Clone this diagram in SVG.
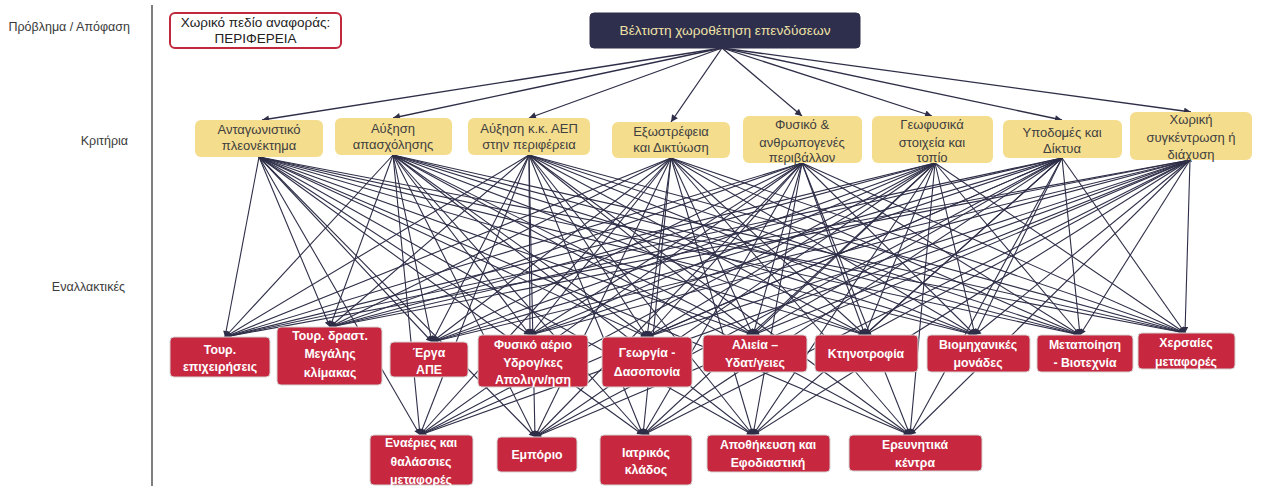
<svg xmlns="http://www.w3.org/2000/svg" width="1262" height="489" viewBox="0 0 1262 489">
<style>
.lbl{font-family:"Liberation Sans",Arial,sans-serif;font-size:12.5px;fill:#3a3a3a;text-anchor:end}
.top{fill:#2e2e4d;stroke:#2e2e4d}
.topt{font-family:"Liberation Sans",Arial,sans-serif;font-size:13.7px;fill:#efe2a6;text-anchor:middle}
.crit{fill:#f5dd8e;stroke:none}
.critt{font-family:"Liberation Sans",Arial,sans-serif;font-size:13px;fill:#404040;text-anchor:middle}
.alt{fill:#c7283f;stroke:#d4d4d4;stroke-width:1}
.altt{font-family:"Liberation Sans",Arial,sans-serif;font-size:12.3px;font-weight:bold;fill:#ffffff;text-anchor:middle}
.scope{fill:#ffffff;stroke:#c0283c;stroke-width:2}
.scopet{font-family:"Liberation Sans",Arial,sans-serif;font-size:13.5px;fill:#222;text-anchor:middle}
#connectors line{stroke:#2e2e48;stroke-width:1.1;marker-end:url(#ah)}
#toparrows line{stroke:#2e2e48;stroke-width:1.3;marker-end:url(#ah2)}
</style>
<defs>
<marker id="ah" viewBox="0 0 10 10" refX="10" refY="5" markerWidth="8" markerHeight="6" markerUnits="userSpaceOnUse" orient="auto"><path d="M0,0 L10,5 L0,10 z" fill="#2e2e48"/></marker>
<marker id="ah2" viewBox="0 0 10 10" refX="10" refY="5" markerWidth="9" markerHeight="7" markerUnits="userSpaceOnUse" orient="auto"><path d="M0,0 L10,5 L0,10 z" fill="#2e2e48"/></marker>
</defs>
<rect width="1262" height="489" fill="#ffffff"/>
<g id="side-labels">
<text class="lbl" x="130" y="31">Πρόβλημα / Απόφαση</text>
<text class="lbl" x="128" y="145">Κριτήρια</text>
<text class="lbl" x="125" y="291">Εναλλακτικές</text>
<line x1="152" y1="5" x2="152" y2="486" stroke="#555" stroke-width="1.5"/>
</g>
<g id="scope">
<rect class="scope" x="170" y="13" width="171" height="35" rx="5"/>
<text class="scopet" x="255.5" y="27">Χωρικό πεδίο αναφοράς:</text>
<text class="scopet" x="255.5" y="43">ΠΕΡΙΦΕΡΕΙΑ</text>
</g>
<g id="toparrows">
<line x1="722" y1="48" x2="262" y2="120"/>
<line x1="722" y1="48" x2="393" y2="118"/>
<line x1="722" y1="48" x2="529" y2="118"/>
<line x1="722" y1="48" x2="671" y2="122"/>
<line x1="722" y1="48" x2="802" y2="116"/>
<line x1="722" y1="48" x2="932" y2="116"/>
<line x1="722" y1="48" x2="1062" y2="120"/>
<line x1="722" y1="48" x2="1191" y2="112"/>
</g>
<g id="connectors">
<line x1="259" y1="157" x2="225" y2="337"/><line x1="259" y1="157" x2="330" y2="327"/><line x1="259" y1="157" x2="432" y2="342"/><line x1="259" y1="157" x2="530" y2="335"/><line x1="259" y1="157" x2="647" y2="337"/><line x1="259" y1="157" x2="753" y2="335"/><line x1="259" y1="157" x2="865" y2="335"/><line x1="259" y1="157" x2="975" y2="335"/><line x1="259" y1="157" x2="1080" y2="335"/><line x1="259" y1="157" x2="1185" y2="333"/><line x1="259" y1="157" x2="420" y2="435"/><line x1="259" y1="157" x2="535" y2="437"/><line x1="259" y1="157" x2="643" y2="435"/><line x1="259" y1="157" x2="753" y2="435"/><line x1="259" y1="157" x2="910" y2="435"/>
<line x1="393" y1="155" x2="225" y2="337"/><line x1="393" y1="155" x2="330" y2="327"/><line x1="393" y1="155" x2="432" y2="342"/><line x1="393" y1="155" x2="530" y2="335"/><line x1="393" y1="155" x2="647" y2="337"/><line x1="393" y1="155" x2="753" y2="335"/><line x1="393" y1="155" x2="865" y2="335"/><line x1="393" y1="155" x2="975" y2="335"/><line x1="393" y1="155" x2="1080" y2="335"/><line x1="393" y1="155" x2="1185" y2="333"/><line x1="393" y1="155" x2="420" y2="435"/><line x1="393" y1="155" x2="535" y2="437"/><line x1="393" y1="155" x2="643" y2="435"/><line x1="393" y1="155" x2="753" y2="435"/><line x1="393" y1="155" x2="910" y2="435"/>
<line x1="529" y1="155" x2="225" y2="337"/><line x1="529" y1="155" x2="330" y2="327"/><line x1="529" y1="155" x2="432" y2="342"/><line x1="529" y1="155" x2="530" y2="335"/><line x1="529" y1="155" x2="647" y2="337"/><line x1="529" y1="155" x2="753" y2="335"/><line x1="529" y1="155" x2="865" y2="335"/><line x1="529" y1="155" x2="975" y2="335"/><line x1="529" y1="155" x2="1080" y2="335"/><line x1="529" y1="155" x2="1185" y2="333"/><line x1="529" y1="155" x2="420" y2="435"/><line x1="529" y1="155" x2="535" y2="437"/><line x1="529" y1="155" x2="643" y2="435"/><line x1="529" y1="155" x2="753" y2="435"/><line x1="529" y1="155" x2="910" y2="435"/>
<line x1="671" y1="158" x2="225" y2="337"/><line x1="671" y1="158" x2="330" y2="327"/><line x1="671" y1="158" x2="432" y2="342"/><line x1="671" y1="158" x2="530" y2="335"/><line x1="671" y1="158" x2="647" y2="337"/><line x1="671" y1="158" x2="753" y2="335"/><line x1="671" y1="158" x2="865" y2="335"/><line x1="671" y1="158" x2="975" y2="335"/><line x1="671" y1="158" x2="1080" y2="335"/><line x1="671" y1="158" x2="1185" y2="333"/><line x1="671" y1="158" x2="420" y2="435"/><line x1="671" y1="158" x2="535" y2="437"/><line x1="671" y1="158" x2="643" y2="435"/><line x1="671" y1="158" x2="753" y2="435"/><line x1="671" y1="158" x2="910" y2="435"/>
<line x1="802" y1="163" x2="225" y2="337"/><line x1="802" y1="163" x2="330" y2="327"/><line x1="802" y1="163" x2="432" y2="342"/><line x1="802" y1="163" x2="530" y2="335"/><line x1="802" y1="163" x2="647" y2="337"/><line x1="802" y1="163" x2="753" y2="335"/><line x1="802" y1="163" x2="865" y2="335"/><line x1="802" y1="163" x2="975" y2="335"/><line x1="802" y1="163" x2="1080" y2="335"/><line x1="802" y1="163" x2="1185" y2="333"/><line x1="802" y1="163" x2="420" y2="435"/><line x1="802" y1="163" x2="535" y2="437"/><line x1="802" y1="163" x2="643" y2="435"/><line x1="802" y1="163" x2="753" y2="435"/><line x1="802" y1="163" x2="910" y2="435"/>
<line x1="935" y1="163" x2="225" y2="337"/><line x1="935" y1="163" x2="330" y2="327"/><line x1="935" y1="163" x2="432" y2="342"/><line x1="935" y1="163" x2="530" y2="335"/><line x1="935" y1="163" x2="647" y2="337"/><line x1="935" y1="163" x2="753" y2="335"/><line x1="935" y1="163" x2="865" y2="335"/><line x1="935" y1="163" x2="975" y2="335"/><line x1="935" y1="163" x2="1080" y2="335"/><line x1="935" y1="163" x2="1185" y2="333"/><line x1="935" y1="163" x2="420" y2="435"/><line x1="935" y1="163" x2="535" y2="437"/><line x1="935" y1="163" x2="643" y2="435"/><line x1="935" y1="163" x2="753" y2="435"/><line x1="935" y1="163" x2="910" y2="435"/>
<line x1="1062" y1="158" x2="225" y2="337"/><line x1="1062" y1="158" x2="330" y2="327"/><line x1="1062" y1="158" x2="432" y2="342"/><line x1="1062" y1="158" x2="530" y2="335"/><line x1="1062" y1="158" x2="647" y2="337"/><line x1="1062" y1="158" x2="753" y2="335"/><line x1="1062" y1="158" x2="865" y2="335"/><line x1="1062" y1="158" x2="975" y2="335"/><line x1="1062" y1="158" x2="1080" y2="335"/><line x1="1062" y1="158" x2="1185" y2="333"/><line x1="1062" y1="158" x2="420" y2="435"/><line x1="1062" y1="158" x2="535" y2="437"/><line x1="1062" y1="158" x2="643" y2="435"/><line x1="1062" y1="158" x2="753" y2="435"/><line x1="1062" y1="158" x2="910" y2="435"/>
<line x1="1190" y1="160" x2="225" y2="337"/><line x1="1190" y1="160" x2="330" y2="327"/><line x1="1190" y1="160" x2="432" y2="342"/><line x1="1190" y1="160" x2="530" y2="335"/><line x1="1190" y1="160" x2="647" y2="337"/><line x1="1190" y1="160" x2="753" y2="335"/><line x1="1190" y1="160" x2="865" y2="335"/><line x1="1190" y1="160" x2="975" y2="335"/><line x1="1190" y1="160" x2="1080" y2="335"/><line x1="1190" y1="160" x2="1185" y2="333"/><line x1="1190" y1="160" x2="420" y2="435"/><line x1="1190" y1="160" x2="535" y2="437"/><line x1="1190" y1="160" x2="643" y2="435"/><line x1="1190" y1="160" x2="753" y2="435"/><line x1="1190" y1="160" x2="910" y2="435"/>
</g>
<g id="goal">
<rect class="top" x="590" y="13" width="270" height="35" rx="4"/>
<text class="topt" x="725" y="35">Βέλτιστη χωροθέτηση επενδύσεων</text>
</g>
<g id="c1"><rect class="crit" x="195" y="120" width="128" height="37" rx="6"/><text class="critt" x="259" y="134">Ανταγωνιστικό</text><text class="critt" x="259" y="150">πλεονέκτημα</text></g>
<g id="c2"><rect class="crit" x="335" y="118" width="117" height="37" rx="6"/><text class="critt" x="393" y="133">Αύξηση</text><text class="critt" x="393" y="149">απασχόλησης</text></g>
<g id="c3"><rect class="crit" x="468" y="118" width="122" height="37" rx="6"/><text class="critt" x="529" y="133">Αύξηση κ.κ. ΑΕΠ</text><text class="critt" x="529" y="149">στην περιφέρεια</text></g>
<g id="c4"><rect class="crit" x="612" y="122" width="118" height="36" rx="6"/><text class="critt" x="671" y="136">Εξωστρέφεια</text><text class="critt" x="671" y="152">και Δικτύωση</text></g>
<g id="c5"><rect class="crit" x="743" y="116" width="119" height="47" rx="6"/><text class="critt" x="802" y="129">Φυσικό &amp;</text><text class="critt" x="802" y="147">ανθρωπογενές</text><text class="critt" x="802" y="162">περιβάλλον</text></g>
<g id="c6"><rect class="crit" x="872" y="116" width="121" height="47" rx="6"/><text class="critt" x="932" y="129">Γεωφυσικά</text><text class="critt" x="932" y="147">στοιχεία και</text><text class="critt" x="932" y="162">τοπίο</text></g>
<g id="c7"><rect class="crit" x="1003" y="120" width="119" height="38" rx="6"/><text class="critt" x="1062" y="137">Υποδομές και</text><text class="critt" x="1062" y="153">Δίκτυα</text></g>
<g id="c8"><rect class="crit" x="1130" y="112" width="122" height="48" rx="6"/><text class="critt" x="1191" y="124">Χωρική</text><text class="critt" x="1191" y="142">συγκέντρωση ή</text><text class="critt" x="1191" y="159">διάχυση</text></g>
<g id="a1"><rect class="alt" x="170" y="337" width="100" height="40" rx="4"/><text class="altt" x="220" y="354">Τουρ.</text><text class="altt" x="220" y="371">επιχειρήσεις</text></g>
<g id="a2"><rect class="alt" x="277" y="327" width="105" height="58" rx="4"/><text class="altt" x="330" y="340">Τουρ. δραστ.</text><text class="altt" x="330" y="358">Μεγάλης</text><text class="altt" x="330" y="377">κλίμακας</text></g>
<g id="a3"><rect class="alt" x="390" y="342" width="78" height="35" rx="4"/><text class="altt" x="429" y="357">Έργα</text><text class="altt" x="429" y="374">ΑΠΕ</text></g>
<g id="a4"><rect class="alt" x="478" y="335" width="110" height="52" rx="4"/><text class="altt" x="533" y="349">Φυσικό αέριο</text><text class="altt" x="533" y="367">Υδρογ/κες</text><text class="altt" x="533" y="384">Απολιγν/ηση</text></g>
<g id="a5"><rect class="alt" x="602" y="337" width="90" height="50" rx="4"/><text class="altt" x="647" y="357">Γεωργία -</text><text class="altt" x="647" y="376">Δασοπονία</text></g>
<g id="a6"><rect class="alt" x="703" y="335" width="104" height="37" rx="4"/><text class="altt" x="755" y="349">Αλιεία –</text><text class="altt" x="755" y="367">Υδατ/γειες</text></g>
<g id="a7"><rect class="alt" x="815" y="335" width="103" height="37" rx="4"/><text class="altt" x="866" y="358">Κτηνοτροφία</text></g>
<g id="a8"><rect class="alt" x="927" y="335" width="103" height="37" rx="4"/><text class="altt" x="978" y="349">Βιομηχανικές</text><text class="altt" x="978" y="367">μονάδες</text></g>
<g id="a9"><rect class="alt" x="1037" y="335" width="96" height="37" rx="4"/><text class="altt" x="1085" y="349">Μεταποίηση</text><text class="altt" x="1085" y="367">- Βιοτεχνία</text></g>
<g id="a10"><rect class="alt" x="1138" y="333" width="97" height="36" rx="4"/><text class="altt" x="1186" y="347">Χερσαίες</text><text class="altt" x="1186" y="366">μεταφορές</text></g>
<g id="b1"><rect class="alt" x="370" y="435" width="103" height="50" rx="4"/><text class="altt" x="421" y="447">Εναέριες και</text><text class="altt" x="421" y="466">θαλάσσιες</text><text class="altt" x="421" y="484">μεταφορές</text></g>
<g id="b2"><rect class="alt" x="497" y="437" width="80" height="35" rx="4"/><text class="altt" x="537" y="459">Εμπόριο</text></g>
<g id="b3"><rect class="alt" x="600" y="435" width="92" height="50" rx="4"/><text class="altt" x="646" y="457">Ιατρικός</text><text class="altt" x="646" y="474">κλάδος</text></g>
<g id="b4"><rect class="alt" x="707" y="435" width="123" height="37" rx="4"/><text class="altt" x="768" y="449">Αποθήκευση και</text><text class="altt" x="768" y="467">Εφοδιαστική</text></g>
<g id="b5"><rect class="alt" x="849" y="435" width="133" height="36" rx="4"/><text class="altt" x="915" y="449">Ερευνητικά</text><text class="altt" x="915" y="467">κέντρα</text></g>
</svg>
